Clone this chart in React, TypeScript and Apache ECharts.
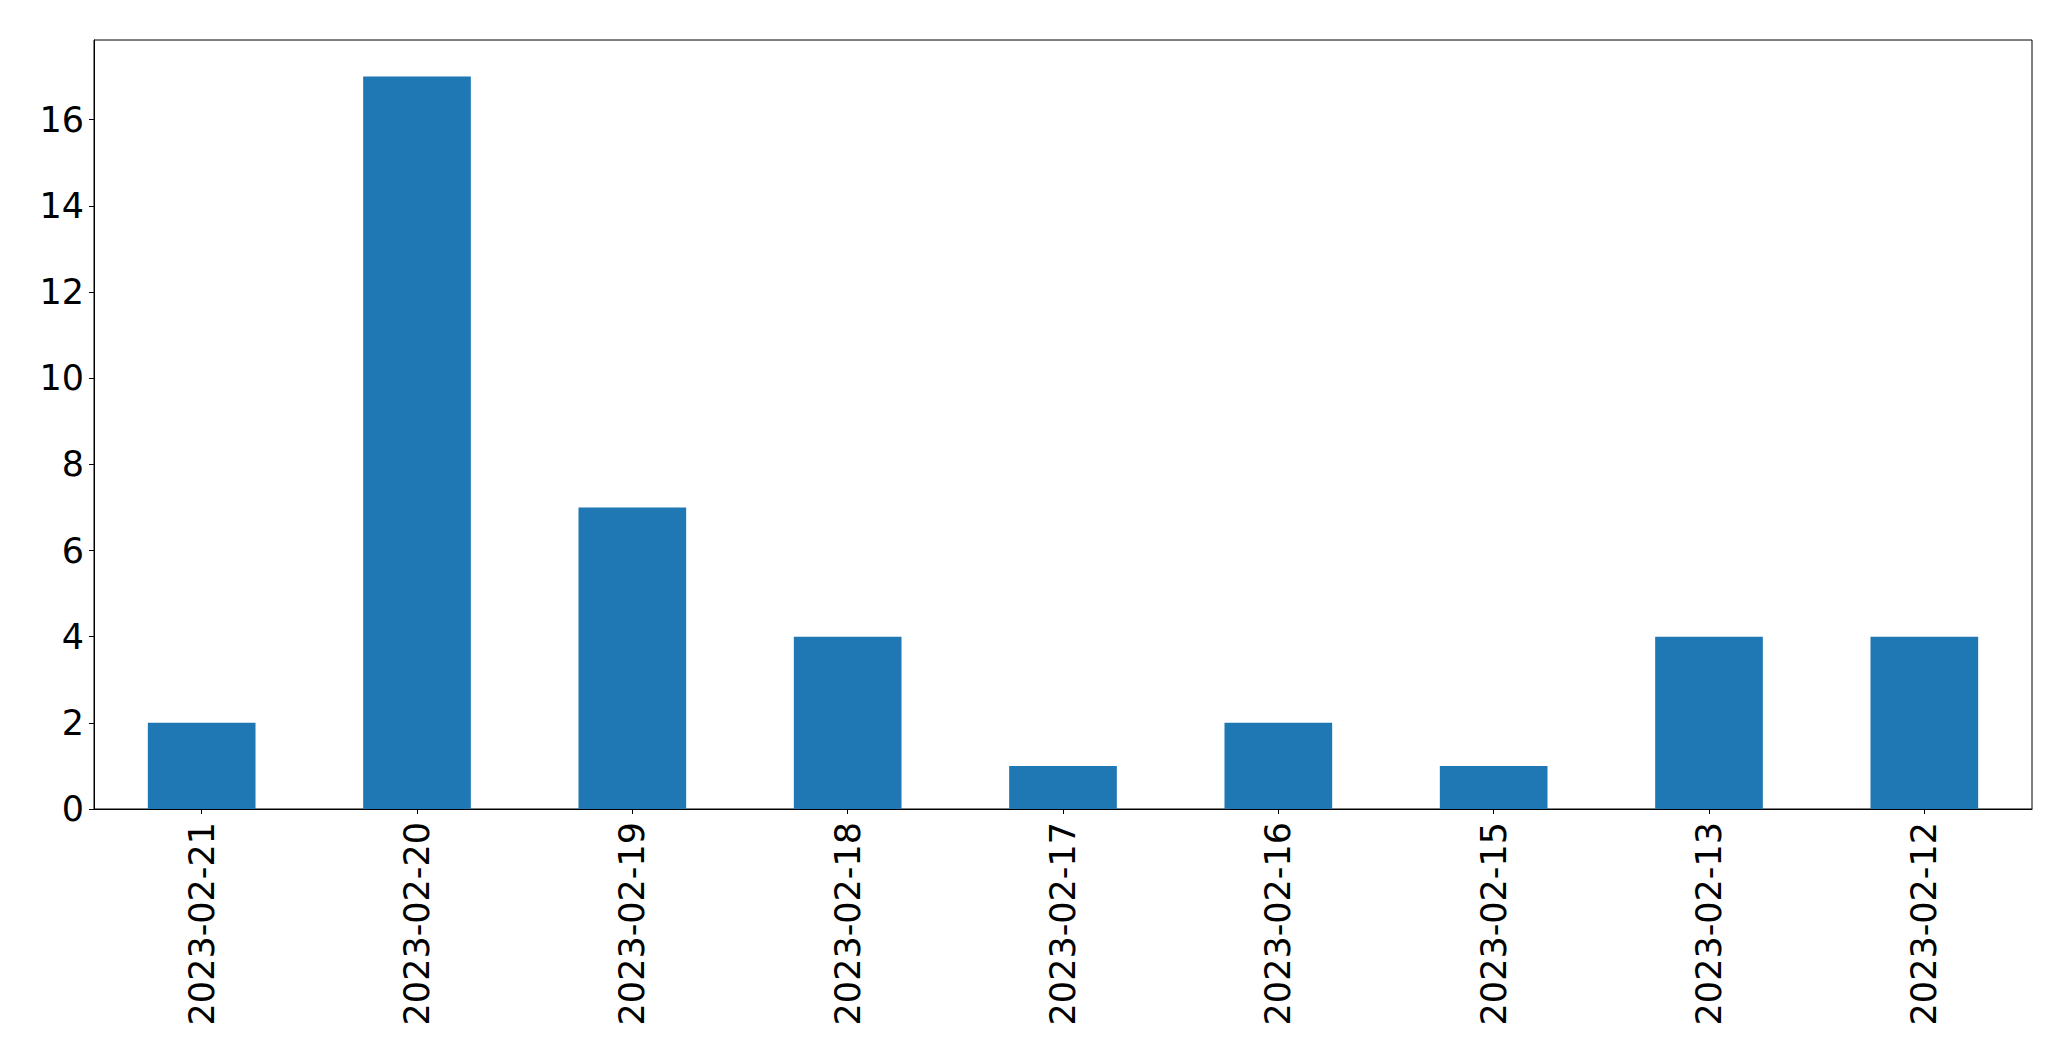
import React, { useEffect, useRef } from "react";
import * as echarts from "echarts";

const categories = [
  "2023-02-21",
  "2023-02-20",
  "2023-02-19",
  "2023-02-18",
  "2023-02-17",
  "2023-02-16",
  "2023-02-15",
  "2023-02-13",
  "2023-02-12",
];
const counts = [2, 17, 7, 4, 1, 2, 1, 4, 4];
const yTicks = [0, 2, 4, 6, 8, 10, 12, 14, 16];
const yMax = 17.85;

export default function App() {
  const ref = useRef<HTMLDivElement>(null);
  useEffect(() => {
    if (!ref.current) return;
    const chart = echarts.init(ref.current, null, { renderer: "svg" });
    const font = "DejaVu Sans";
    chart.setOption({
      animation: false,
      backgroundColor: "#ffffff",
      grid: {
        left: 94,
        top: 40,
        width: 1938,
        height: 769,
        show: true,
        borderColor: "#000000",
        borderWidth: 1,
        backgroundColor: "transparent",
        containLabel: false,
      },
      xAxis: {
        type: "category",
        data: categories,
        boundaryGap: true,
        axisLine: { show: true, lineStyle: { color: "#000000", width: 1 } },
        axisTick: {
          show: true,
          alignWithLabel: true,
          length: 5,
          lineStyle: { color: "#000000", width: 1 },
        },
        axisLabel: {
          rotate: 90,
          margin: 13,
          fontSize: 35,
          fontFamily: font,
          color: "#000000",
          interval: 0,
        },
        splitLine: { show: false },
      },
      yAxis: {
        type: "value",
        min: 0,
        max: yMax,
        axisLine: { show: true, lineStyle: { color: "#000000", width: 1 } },
        axisTick: {
          show: true,
          length: 5,
          customValues: yTicks,
          lineStyle: { color: "#000000", width: 1 },
        },
        axisLabel: {
          customValues: yTicks,
          margin: 10,
          fontSize: 35,
          fontFamily: font,
          color: "#000000",
        },
        splitLine: { show: false },
      },
      series: [
        {
          type: "bar",
          data: counts,
          barWidth: "50%",
          itemStyle: { color: "#1f77b4" },
        },
      ],
    });
    return () => chart.dispose();
  }, []);
  return (
    <div
      ref={ref}
      style={{ position: "absolute", left: 0, top: 0, width: 2071, height: 1061 }}
    />
  );
}
